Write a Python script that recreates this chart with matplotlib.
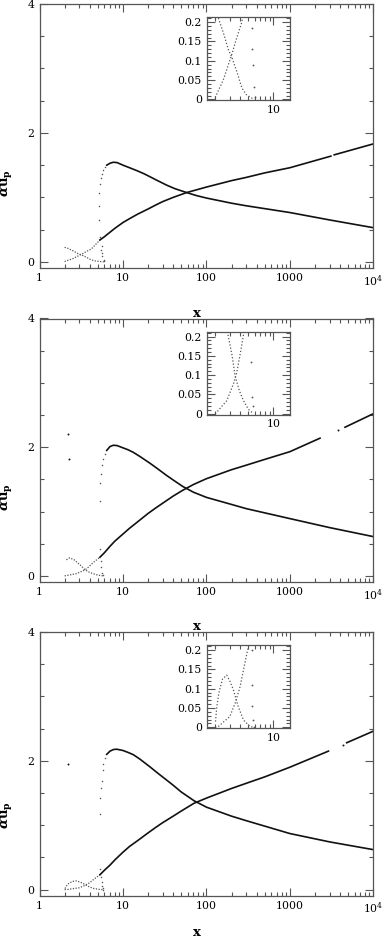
import matplotlib
matplotlib.use('Agg')
import matplotlib.pyplot as plt
from matplotlib.ticker import FixedLocator, FixedFormatter, MultipleLocator, NullFormatter

plt.rcParams['font.family'] = ['DejaVu Serif']
plt.rcParams['mathtext.fontset'] = 'dejavuserif'

# ---------------- data ----------------
# Panel 1
P1_A_x = [2.0, 2.5, 3.1, 3.64, 4.18, 5.3, 6.0, 7.0, 8.0, 10, 12, 15, 20, 25, 30, 40, 58, 80, 100,
          200, 300, 500, 1000, 3100]
P1_A_y = [0.005, 0.05, 0.11, 0.16, 0.20, 0.34, 0.39, 0.46, 0.52, 0.61, 0.67, 0.74, 0.82, 0.885, 0.935,
          1.0, 1.075, 1.125, 1.16, 1.26, 1.31, 1.38, 1.46, 1.64]
P1_A_tail_x = [3400, 10000]
P1_A_tail_y = [1.66, 1.83]
P1_B_x = [6.4, 7.0, 7.67, 8.5, 10, 12, 15, 18, 21.1, 26, 33.4, 42, 58, 75, 100, 200, 300, 1000, 3000, 10000]
P1_B_y = [1.50, 1.53, 1.545, 1.54, 1.50, 1.46, 1.41, 1.365, 1.32, 1.26, 1.19, 1.135, 1.075, 1.03, 0.99,
          0.91, 0.87, 0.765, 0.65, 0.53]
P1_Bfold_x = [6.0, 5.87, 5.66, 5.6, 5.5, 5.56, 5.3, 5.16, 5.16, 5.2, 5.3, 5.45, 5.6, 5.8, 6.1]
P1_Bfold_y = [0.006, 0.031, 0.089, 0.13, 0.184, 0.24, 0.39, 0.65, 0.86, 1.065, 1.2, 1.3, 1.37, 1.43, 1.47]
P1_C_x = [2.0, 2.19, 2.52, 2.89, 3.16, 3.64, 4.18, 4.7, 5.26, 5.9]
P1_C_y = [0.225, 0.21, 0.171, 0.128, 0.11, 0.072, 0.03, 0.013, 0.006, 0.0]
P1_iso_x = []
P1_iso_y = []

# Panel 2
P2_A_x = [2.0, 2.09, 2.76, 3.31, 3.63, 3.98, 4.37, 5.3, 6.0, 7.0, 8.0, 10, 12, 15, 20, 25, 30, 40, 52,
          70, 100, 200, 300, 500, 1000, 2300]
P2_A_y = [0.0, 0.004, 0.034, 0.077, 0.106, 0.153, 0.204, 0.29, 0.36, 0.46, 0.54, 0.65, 0.74, 0.84, 0.97,
          1.06, 1.13, 1.24, 1.33, 1.42, 1.51, 1.65, 1.72, 1.81, 1.93, 2.14]
P2_A_tail_x = [4580, 10000]
P2_A_tail_y = [2.31, 2.52]
P2_B_x = [6.39, 7.0, 7.67, 8.5, 10, 11.5, 13.3, 16, 21.1, 26, 33.4, 40, 52, 70, 100, 200, 300, 1000,
          3000, 10000]
P2_B_y = [1.95, 2.01, 2.03, 2.025, 1.99, 1.96, 1.92, 1.855, 1.75, 1.665, 1.56, 1.49, 1.39, 1.30, 1.22,
          1.11, 1.045, 0.89, 0.75, 0.61]
P2_Bfold_x = [5.75, 5.6, 5.46, 5.4, 5.3, 5.3, 5.35, 5.46, 5.6, 5.82, 6.1]
P2_Bfold_y = [0.02, 0.043, 0.23, 0.134, 0.42, 1.17, 1.45, 1.59, 1.72, 1.82, 1.9]
P2_C_x = [2.1, 2.3, 2.6, 2.88, 3.2, 3.47, 3.9, 4.37, 5.0, 5.75]
P2_C_y = [0.25, 0.28, 0.25, 0.20, 0.15, 0.098, 0.06, 0.034, 0.012, 0.0]
P2_iso_x = [2.21, 2.25, 3770]
P2_iso_y = [2.21, 1.82, 2.27]

# Panel 3
P3_A_x = [2.0, 2.18, 3.0, 3.47, 3.98, 4.37, 4.79, 5.3, 6.0, 7.0, 8.0, 10, 12, 15, 20, 25, 30, 40, 50,
          71, 100, 200, 300, 500, 1000, 2900]
P3_A_y = [0.0, 0.002, 0.028, 0.062, 0.105, 0.148, 0.19, 0.23, 0.30, 0.38, 0.46, 0.58, 0.67, 0.76, 0.88,
          0.97, 1.04, 1.14, 1.22, 1.34, 1.42, 1.57, 1.65, 1.75, 1.90, 2.15]
P3_A_tail_x = [4800, 10000]
P3_A_tail_y = [2.28, 2.46]
P3_B_x = [6.39, 7.0, 7.7, 8.4, 10, 11.5, 13.3, 16, 21.1, 26, 33.4, 40, 50, 71, 100, 200, 300, 1000,
          3000, 10000]
P3_B_y = [2.10, 2.15, 2.175, 2.18, 2.16, 2.13, 2.095, 2.025, 1.905, 1.81, 1.70, 1.62, 1.515, 1.38, 1.28,
          1.14, 1.07, 0.87, 0.74, 0.62]
P3_Bfold_x = [5.82, 5.7, 5.6, 5.6, 5.5, 5.3, 5.3, 5.35, 5.45, 5.56, 5.7, 5.82, 6.1]
P3_Bfold_y = [0.0, 0.019, 0.055, 0.11, 0.2, 0.32, 1.18, 1.42, 1.58, 1.69, 1.85, 1.95, 2.05]
P3_C_x = [2.02, 2.09, 2.22, 2.45, 2.75, 3.0, 3.31, 3.8, 4.37, 5.25, 5.8]
P3_C_y = [0.015, 0.052, 0.09, 0.125, 0.135, 0.12, 0.097, 0.053, 0.019, 0.002, 0.0]
P3_iso_x = [2.21, 4300]
P3_iso_y = [1.95, 2.25]

# Tick labels
MAIN_XTICKS = [1, 10, 100, 1000, 10000]
MAIN_XLABELS = ['1', '10', '100', '1000', r'$\mathregular{10^4}$']
MAIN_YTICKS = [0, 2, 4]
MAIN_YLABELS = ['0', '2', '4']
INSET_XTICKS = [10]
INSET_XLABELS = ['10']
INSET_YTICKS = [0, 0.05, 0.1, 0.15, 0.2]
INSET_YLABELS = ['0', '0.05', '0.1', '0.15', '0.2']

panels = [
    dict(A=(P1_A_x, P1_A_y), At=(P1_A_tail_x, P1_A_tail_y), B=(P1_B_x, P1_B_y),
         Bf=(P1_Bfold_x, P1_Bfold_y), C=(P1_C_x, P1_C_y), iso=(P1_iso_x, P1_iso_y)),
    dict(A=(P2_A_x, P2_A_y), At=(P2_A_tail_x, P2_A_tail_y), B=(P2_B_x, P2_B_y),
         Bf=(P2_Bfold_x, P2_Bfold_y), C=(P2_C_x, P2_C_y), iso=(P2_iso_x, P2_iso_y)),
    dict(A=(P3_A_x, P3_A_y), At=(P3_A_tail_x, P3_A_tail_y), B=(P3_B_x, P3_B_y),
         Bf=(P3_Bfold_x, P3_Bfold_y), C=(P3_C_x, P3_C_y), iso=(P3_iso_x, P3_iso_y)),
]

W, H = 382, 939
fig = plt.figure(figsize=(W / 100, H / 100), dpi=100)

frame_col = '#555555'
line_col = '#111111'
dot_col = '#555555'
tick_fs = 7.8

# axes pixel geometry (top, bottom)
boxes = [(4.0, 268.3), (318.5, 582.3), (632.0, 896.0)]
xlab_y = [-0.145, -0.144, -0.112]
ylab_y = [0.323, 0.322, 0.307]
left_px, right_px = 39.5, 373.3


def style_axis(ax, fs):
    for s in ax.spines.values():
        s.set_color(frame_col)
        s.set_linewidth(0.9)
    ax.tick_params(which='both', direction='in', top=True, right=True,
                   color=frame_col, width=0.8, labelsize=fs, labelcolor='black')
    ax.tick_params(which='major', length=5.0, pad=3.5)
    ax.tick_params(which='minor', length=2.6)


for i, p in enumerate(panels):
    top, bot = boxes[i]
    ax = fig.add_axes([left_px / W, 1 - bot / H, (right_px - left_px) / W, (bot - top) / H])
    ax.set_xscale('log')
    ax.set_xlim(1, 1e4)
    ax.set_ylim(-0.1, 4.0)

    Ax, Ay = p['A']
    k = next(j for j, v in enumerate(Ax) if v >= 5.3)
    ax.plot(Ax[:k + 1], Ay[:k + 1], color=dot_col, lw=0.9, ls=(0, (1, 1.2)))
    ax.plot(Ax[k:], Ay[k:], color=line_col, lw=1.2)
    ax.plot(p['At'][0], p['At'][1], color=line_col, lw=1.2)
    ax.plot(p['B'][0], p['B'][1], color=line_col, lw=1.2)
    ax.plot(p['Bf'][0], p['Bf'][1], ls='none', marker='o', ms=1.1, color=dot_col, mew=0)
    ax.plot(p['C'][0], p['C'][1], color=dot_col, lw=0.9, ls=(0, (1, 1.2)))
    ax.plot(p['iso'][0], p['iso'][1], ls='none', marker='o', ms=1.4, color=line_col, mew=0)

    ax.xaxis.set_major_locator(FixedLocator(MAIN_XTICKS))
    ax.xaxis.set_major_formatter(FixedFormatter(MAIN_XLABELS))
    ax.xaxis.set_minor_locator(FixedLocator([m * 10 ** d for d in range(4) for m in range(2, 10)]))
    ax.xaxis.set_minor_formatter(NullFormatter())
    ax.yaxis.set_major_locator(FixedLocator(MAIN_YTICKS))
    ax.yaxis.set_major_formatter(FixedFormatter(MAIN_YLABELS))
    ax.yaxis.set_minor_locator(MultipleLocator(0.5))
    style_axis(ax, tick_fs)
    ax.tick_params(which='major', length=6.0)
    ax.tick_params(which='minor', length=3.2)

    ax.set_xlabel('x', fontsize=9.5, fontweight='bold')
    ax.xaxis.set_label_coords(0.471, xlab_y[i])
    ax.set_ylabel(r'$\boldsymbol{\alpha}\mathbf{u_p}$', fontsize=9.5, va='center')
    ax.yaxis.set_label_coords(-0.100, ylab_y[i])

    # inset
    ins = ax.inset_axes([0.501, 0.636, 0.2496, 0.313])
    ins.set_xscale('log')
    ins.set_xlim(10 ** 0.2, 10 ** 1.2)
    ins.set_ylim(-0.002, 0.212)
    ins.plot(Ax, Ay, color=dot_col, lw=0.9, ls=(0, (1, 1.6)))
    ins.plot(p['C'][0], p['C'][1], color=dot_col, lw=0.9, ls=(0, (1, 1.6)))
    ins.plot(p['Bf'][0], p['Bf'][1], ls='none', marker='o', ms=1.3, color=dot_col, mew=0)
    ins.plot(p['iso'][0], p['iso'][1], ls='none', marker='o', ms=1.3, color=dot_col, mew=0)
    ins.xaxis.set_major_locator(FixedLocator(INSET_XTICKS))
    ins.xaxis.set_major_formatter(FixedFormatter(INSET_XLABELS))
    ins.xaxis.set_minor_locator(FixedLocator(list(range(2, 10))))
    ins.xaxis.set_minor_formatter(NullFormatter())
    ins.yaxis.set_major_locator(FixedLocator(INSET_YTICKS))
    ins.yaxis.set_major_formatter(FixedFormatter(INSET_YLABELS))
    ins.yaxis.set_minor_locator(MultipleLocator(0.01))
    style_axis(ins, tick_fs)
    ins.tick_params(which='major', length=5.5)
    ins.tick_params(which='minor', length=2.8)

fig.savefig('out.png', dpi=100, facecolor='white')
